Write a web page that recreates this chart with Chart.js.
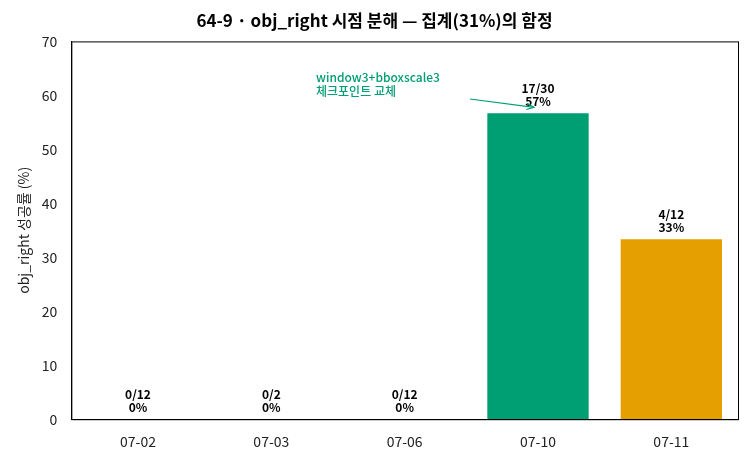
<!DOCTYPE html>
<html><head><meta charset="utf-8">
<script src="https://cdn.jsdelivr.net/npm/chart.js@4"></script>
<style>html,body{margin:0;padding:0;background:#fff}#w{width:749px;height:463px}</style>
</head><body><div id="w"><canvas id="c"></canvas></div>
<script>
const categories = ["07-02","07-03","07-06","07-10","07-11"];
const successRate = [0, 0, 0, 56.67, 33.33];
const fractions = ["0/12","0/2","0/12","17/30","4/12"];
const pctLabels = ["0%","0%","0%","57%","33%"];
const barColors = ["#009E73","#009E73","#009E73","#009E73","#E69F00"];
const yTicks = [0,10,20,30,40,50,60,70];
const FONT = "'Noto Sans CJK KR','Noto Sans',sans-serif";

const labelPlugin = {
  id:'lbl',
  afterDatasetsDraw(chart){
    const ctx = chart.ctx, meta = chart.getDatasetMeta(0);
    ctx.save();
    ctx.fillStyle='#000'; ctx.textAlign='center'; ctx.font="600 12px "+FONT;
    meta.data.forEach((b,i)=>{
      ctx.fillText(fractions[i], b.x, b.y-20);
      ctx.fillText(pctLabels[i], b.x, b.y-7);
    });
    const xs = chart.scales.x, ys = chart.scales.y;
    const tx = xs.getPixelForValue(3), ty = ys.getPixelForValue(successRate[3]);
    ctx.fillStyle='#009E73'; ctx.strokeStyle='#009E73'; ctx.textAlign='left';
    ctx.font="500 12px "+FONT;
    ctx.fillText("window3+bboxscale3", 316, 82);
    ctx.fillText("체크포인트 교체", 316, 96);
    const x0=470,y0=99,x1=tx-4,y1=ty-6;
    ctx.lineWidth=1.2;
    ctx.beginPath();ctx.moveTo(x0,y0);ctx.lineTo(x1,y1);ctx.stroke();
    const a=Math.atan2(y1-y0,x1-x0);
    ctx.beginPath();
    ctx.moveTo(x1-8*Math.cos(a-0.4),y1-8*Math.sin(a-0.4));
    ctx.lineTo(x1,y1);
    ctx.lineTo(x1-8*Math.cos(a+0.4),y1-8*Math.sin(a+0.4));
    ctx.stroke();
    ctx.restore();
  }
};
const framePlugin = {
  id:'frame',
  afterDraw(chart){
    const a=chart.chartArea, ctx=chart.ctx;
    ctx.save();ctx.strokeStyle='#000';ctx.lineWidth=1;
    ctx.strokeRect(a.left+0.5,a.top+0.5,a.right-a.left,a.bottom-a.top);ctx.restore();
  }
};

new Chart(document.getElementById('c'),{
  type:'bar',
  data:{labels:categories,datasets:[{data:successRate,backgroundColor:barColors,barPercentage:0.76,categoryPercentage:1}]},
  options:{
    responsive:true,maintainAspectRatio:false,animation:false,
    layout:{padding:{left:11,right:11,top:0,bottom:7}},
    plugins:{legend:{display:false},tooltip:{enabled:false},
      title:{display:true,text:"64-9 · obj_right 시점 분해 — 집계(31%)의 함정",color:'#000',
        font:{family:FONT,size:17,weight:'bold'},padding:{top:10,bottom:11}}},
    scales:{
      x:{grid:{display:false},border:{color:'#000'},
        ticks:{color:'#222',font:{family:FONT,size:14},padding:6}},
      y:{min:0,max:70,grid:{display:false},border:{color:'#000'},
        afterBuildTicks(s){s.ticks=yTicks.map(v=>({value:v}));},
        ticks:{color:'#222',font:{family:FONT,size:14},padding:6},
        title:{display:true,text:"obj_right 성공률 (%)",color:'#222',font:{family:FONT,size:14}}}
    }
  },
  plugins:[labelPlugin,framePlugin]
});
</script></body></html>
